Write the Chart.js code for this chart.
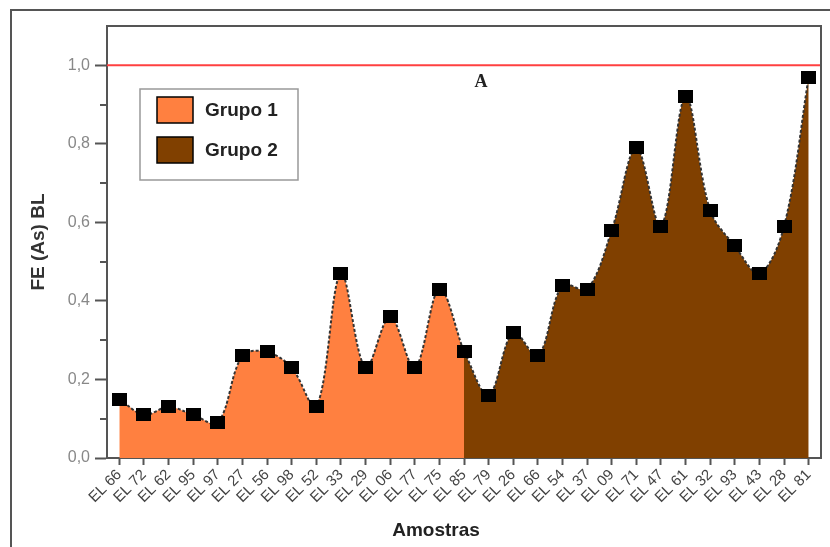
<!DOCTYPE html>
<html><head><meta charset="utf-8">
<script src="https://cdn.jsdelivr.net/npm/chart.js@4"></script>
<style>html,body{margin:0;padding:0;background:#fff}</style>
</head><body>
<canvas id="c" width="830" height="547"></canvas>
<script>
const categories = ['EL 66','EL 72','EL 62','EL 95','EL 97','EL 27','EL 56','EL 98','EL 52','EL 33','EL 29','EL 06','EL 77','EL 75','EL 85','EL 79','EL 26','EL 66','EL 54','EL 37','EL 09','EL 71','EL 47','EL 61','EL 32','EL 93','EL 43','EL 28','EL 81'];
const grupo1Values = [0.15,0.11,0.13,0.11,0.09,0.26,0.27,0.23,0.13,0.47,0.23,0.36,0.23,0.43,0.27];
const grupo2Values = [0.27,0.16,0.32,0.26,0.44,0.43,0.58,0.79,0.59,0.92,0.63,0.54,0.47,0.59,0.97];
const grupo2Start = 14;
const seriesNames = ['Grupo 1','Grupo 2'];
const limitValue = 1.0;
const yMin = 0, yMax = 1.1, yStep = 0.1;
const panelLabel = 'A';
const xTitle = 'Amostras';
const yTitle = 'FE (As) BL';

const g1Data = categories.map((_, i) => i < grupo1Values.length ? grupo1Values[i] : null);
const g2Data = categories.map((_, i) => (i >= grupo2Start && i - grupo2Start < grupo2Values.length) ? grupo2Values[i - grupo2Start] : null);

function marker(w, h) {
  const c = document.createElement('canvas');
  c.width = w; c.height = h;
  const x = c.getContext('2d');
  x.fillStyle = '#000';
  x.fillRect(0, 0, w, h);
  return c;
}
const mk = marker(15, 13);

const isMajor = v => { const k = Math.round(v * 10); return k % 2 === 0 && k <= 10; };

const deco = {
  id: 'deco',
  beforeDatasetsDraw(chart) {
    const {ctx, chartArea: a, scales: {y}} = chart;
    const py = y.getPixelForValue(limitValue);
    ctx.save();
    ctx.strokeStyle = '#ff4040';
    ctx.lineWidth = 2;
    ctx.beginPath(); ctx.moveTo(a.left, py); ctx.lineTo(a.right, py); ctx.stroke();
    ctx.restore();
  },
  afterDraw(chart) {
    const {ctx, chartArea: a, scales: {y}} = chart;
    ctx.save();
    ctx.strokeStyle = '#555'; ctx.lineWidth = 2;
    ctx.beginPath(); ctx.moveTo(11, 547); ctx.lineTo(11, 10); ctx.lineTo(830, 10); ctx.stroke();
    ctx.beginPath(); ctx.moveTo(a.left, a.top); ctx.lineTo(a.right, a.top); ctx.lineTo(a.right, a.bottom); ctx.stroke();
    for (let k = 1; k <= 9; k += 2) {
      const py = Math.round(y.getPixelForValue(k / 10));
      ctx.beginPath(); ctx.moveTo(a.left - 7, py); ctx.lineTo(a.left, py); ctx.stroke();
    }
    const lx = 140, ly = 89, lw = 158, lh = 91;
    ctx.fillStyle = '#fff'; ctx.fillRect(lx, ly, lw, lh);
    ctx.strokeStyle = '#999'; ctx.lineWidth = 1.5; ctx.strokeRect(lx, ly, lw, lh);
    chart.data.datasets.forEach((ds, i) => {
      const sy = 97 + i * 40;
      ctx.fillStyle = ds.backgroundColor; ctx.fillRect(157, sy, 36, 26);
      ctx.strokeStyle = '#000'; ctx.lineWidth = 1.5; ctx.strokeRect(157, sy, 36, 26);
      ctx.fillStyle = '#222'; ctx.font = 'bold 19px "Liberation Sans", Arial, sans-serif';
      ctx.textAlign = 'left'; ctx.textBaseline = 'middle';
      ctx.fillText(ds.label, 205, sy + 14);
    });
    ctx.fillStyle = '#222'; ctx.font = 'bold 18px "Liberation Serif", "Times New Roman", serif';
    ctx.textAlign = 'center'; ctx.textBaseline = 'middle';
    ctx.fillText(panelLabel, 481, 82);
    ctx.font = 'bold 19px "Liberation Sans", Arial, sans-serif';
    ctx.fillStyle = '#222';
    ctx.fillText(xTitle, 436, 531);
    ctx.restore();
  }
};

new Chart(document.getElementById('c'), {
  type: 'line',
  data: {
    labels: categories,
    datasets: [
      { label: seriesNames[0], data: g1Data, fill: 'origin', backgroundColor: '#FF8040',
        borderColor: '#333', borderWidth: 2, borderDash: [3, 2], tension: 0.35,
        pointStyle: mk, pointRadius: 7, spanGaps: false },
      { label: seriesNames[1], data: g2Data, fill: 'origin', backgroundColor: '#804000',
        borderColor: '#333', borderWidth: 2, borderDash: [3, 2], tension: 0.35,
        pointStyle: mk, pointRadius: 7, spanGaps: false }
    ]
  },
  options: {
    responsive: false, animation: false,
    layout: { padding: { top: 26, right: 8, left: 0, bottom: 0 } },
    plugins: { legend: { display: false }, tooltip: { enabled: false } },
    scales: {
      x: {
        offset: true,
        grid: { display: true, drawOnChartArea: false, tickLength: 7, tickColor: '#555', tickWidth: 2 },
        border: { color: '#555', width: 2 },
        ticks: { autoSkip: false, maxRotation: 45, minRotation: 45, padding: 1, color: '#444',
                 font: { family: '"Liberation Sans", Arial, sans-serif', size: 15 } },
        afterFit(s) { s.height = 89; }
      },
      y: {
        min: yMin, max: yMax,
        ticks: { stepSize: yStep, padding: 5, color: '#888',
                 font: { family: '"Liberation Sans", Arial, sans-serif', size: 16 },
                 callback: v => isMajor(v) ? v.toFixed(1).replace('.', ',') : '' },
        grid: { display: true, drawOnChartArea: false, tickLength: 12, tickWidth: 2,
                tickColor: c => isMajor(c.tick.value) ? '#555' : 'rgba(0,0,0,0)' },
        border: { color: '#555', width: 2 },
        title: { display: true, text: yTitle, color: '#333', padding: { top: 27, bottom: 0 },
                 font: { family: '"Liberation Sans", Arial, sans-serif', size: 19, weight: 'bold' } },
        afterFit(s) { s.width = 107; }
      }
    }
  },
  plugins: [deco]
});
</script>
</body></html>
